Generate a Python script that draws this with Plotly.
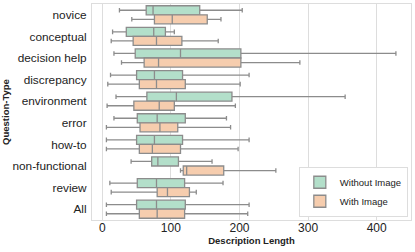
import plotly.graph_objects as go

categories = ["novice", "conceptual", "decision help", "discrepancy", "environment",
              "error", "how-to", "non-functional", "review", "All"]

# Without Image
wo_lower = [25, 15, 17, 12, 20, 17, 6, 42, 11, 6]
wo_q1 = [64, 35, 48, 50, 65, 51, 50, 72, 51, 50]
wo_med = [74, 75, 114, 76, 108, 80, 76, 81, 79, 79]
wo_q3 = [142, 92, 202, 117, 189, 121, 117, 111, 120, 121]
wo_upper = [204, 105, 428, 214, 354, 181, 214, 160, 176, 214]

# With Image
wi_lower = [43, 13, 28, 8, 7, 6, 6, 114, 13, 6]
wi_q1 = [76, 45, 61, 54, 46, 55, 54, 118, 80, 54]
wi_med = [102, 79, 82, 79, 83, 84, 73, 123, 95, 80]
wi_q3 = [153, 116, 202, 121, 105, 110, 114, 177, 127, 120]
wi_upper = [173, 169, 288, 201, 194, 187, 198, 253, 137, 212]

x_ticks = [0, 100, 200, 300, 400]

edge = "#8c8c8c"
fig = go.Figure()
fig.add_trace(go.Box(
    name="Without Image", y=categories, orientation="h",
    lowerfence=wo_lower, q1=wo_q1, median=wo_med, q3=wo_q3, upperfence=wo_upper,
    fillcolor="#b3dfca", line=dict(color=edge, width=1.3), whiskerwidth=0.5,
))
fig.add_trace(go.Box(
    name="With Image", y=categories, orientation="h",
    lowerfence=wi_lower, q1=wi_q1, median=wi_med, q3=wi_q3, upperfence=wi_upper,
    fillcolor="#f6cdae", line=dict(color=edge, width=1.3), whiskerwidth=0.5,
))

fig.update_layout(
    width=415, height=252,
    margin=dict(l=92, r=4, t=4, b=32),
    boxmode="group", boxgap=0.16, boxgroupgap=0.0,
    plot_bgcolor="white", paper_bgcolor="white",
    font=dict(family="Liberation Sans, Arial, sans-serif", color="#222"),
    xaxis=dict(
        range=[-15, 450], tickvals=x_ticks, showgrid=True, gridcolor="#dddddd",
        gridwidth=1, zeroline=False, showline=True, linecolor="#dddddd", mirror=True,
        tickfont=dict(size=12, color="#222"), ticks="", ticklabelstandoff=-3,
        automargin=False,
        title=dict(text="<b>Description Length</b>", font=dict(size=9.5), standoff=0),
    ),
    yaxis=dict(
        categoryorder="array", categoryarray=categories, autorange="reversed",
        showgrid=False, zeroline=False, showline=True, linecolor="#dddddd", mirror=True,
        tickfont=dict(size=11.8, color="#222"), ticks="", ticklabelstandoff=2,
        automargin=False,
        title=dict(text="<b>Question-Type</b>", font=dict(size=9.5), standoff=4),
    ),
    legend=dict(
        x=0.99, y=0.015, xanchor="right", yanchor="bottom",
        bordercolor="#dddddd", borderwidth=1, bgcolor="white",
        font=dict(size=9.5, color="#222"), tracegroupgap=0,
    ),
    showlegend=True,
)

fig.write_html("out.html", config={"displayModeBar": False},
               post_script="document.body.style.margin='0px';")
